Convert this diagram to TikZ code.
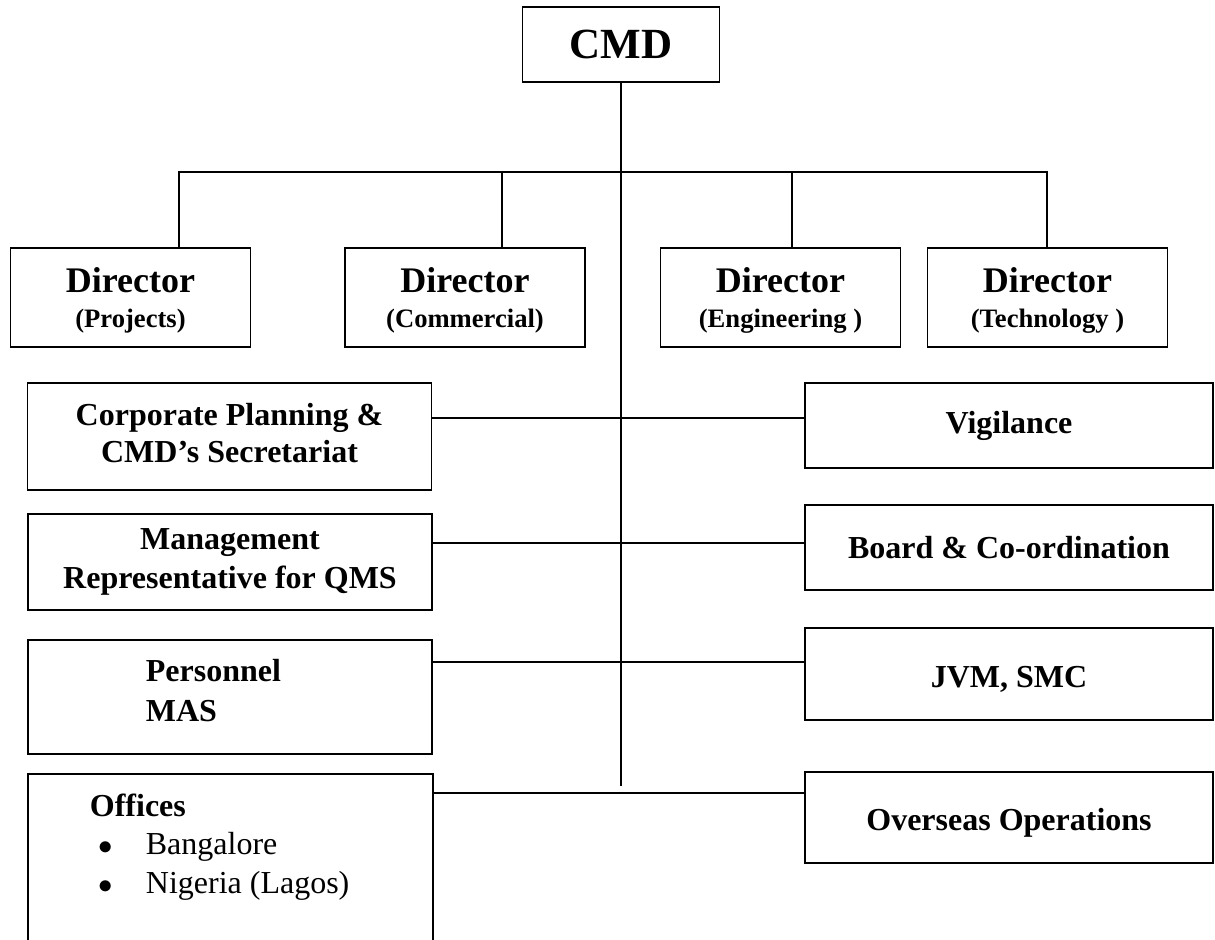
\documentclass[tikz,border=0pt]{standalone}
\usepackage{fontspec}
\setmainfont{Liberation Serif}

\begin{document}
\begin{tikzpicture}[x=0.5pt, y=-0.5pt, line width=0.9pt,
    box/.style={draw, inner sep=2pt, align=center, font=\bfseries},
    dir/.style={box, minimum width=120pt, minimum height=49.5pt, text height=32.5pt,
                font=\fontsize{13.3}{17.5}\selectfont\bfseries},
    unit/.style={box, minimum width=202pt, font=\fontsize{16}{18.5}\selectfont\bfseries},
    runit/.style={unit, minimum width=204pt},
    txt/.style={anchor=north west, align=left, inner sep=0pt}]
    \useasboundingbox (0,0) rectangle (1215,940);
    \clip (0,0) rectangle (1215,940);

    \node[box, minimum width=98.5pt, minimum height=37.5pt, font=\fontsize{21.5}{24}\selectfont\bfseries] (1) at (621,44.5) {CMD};

    \node[dir] (2) at (130.5,297.5) {{\fontsize{18}{20}\selectfont Director}\\(Projects)};
    \node[dir] (3) at (465,297.5)   {{\fontsize{18}{20}\selectfont Director}\\(Commercial)};
    \node[dir] (4) at (780.5,297.5) {{\fontsize{18}{20}\selectfont Director}\\(Engineering )};
    \node[dir] (5) at (1047.5,297.5){{\fontsize{18}{20}\selectfont Director}\\(Technology )};

    \node[unit, minimum height=53.5pt, text depth=4pt] (6) at (229.5,436.5) {Corporate Planning \&\\CMD’s Secretariat};
    \node[unit, minimum height=48pt, font=\fontsize{16}{19.5}\selectfont\bfseries] (7) at (230,562) {Management\\Representative for QMS};
    \node[unit, minimum height=57pt] (8) at (230,697) {};
    \node[txt, font=\fontsize{16}{20}\selectfont\bfseries] (t8) at (145,658) {Personnel\\MAS};
    \node[box, minimum width=202.5pt, minimum height=95pt] (9) at (230.5,869) {};
    \node[txt, font=\fontsize{16}{19.25}\selectfont] (t9) at (89,793)
        {\textbf{Offices}\\
         \hspace*{4.5pt}\makebox[23.5pt][l]{\fontsize{15}{15}\selectfont$\bullet$}Bangalore\\
         \hspace*{4.5pt}\makebox[23.5pt][l]{\fontsize{15}{15}\selectfont$\bullet$}Nigeria (Lagos)};

    \node[runit, minimum height=42.5pt] (10) at (1009,425.5) {Vigilance};
    \node[runit, minimum height=42.5pt] (11) at (1009,547.5) {Board \& Co-ordination};
    \node[runit, minimum height=46pt, text height=16pt]   (12) at (1009,674)   {JVM, SMC};
    \node[runit, minimum height=45.5pt, text height=16pt] (13) at (1009,817.5) {Overseas Operations};

    \coordinate (bL) at (179,172);
    \coordinate (b2) at (502,172);
    \coordinate (b3) at (792,172);
    \coordinate (bR) at (1047,172);
    \coordinate (e) at (621,786);
    \coordinate (r1) at (0,418);
    \coordinate (r2) at (0,543);
    \coordinate (r3) at (0,662);
    \coordinate (r4) at (0,793);

    \draw (1) -- (e);
    \draw (bL |- 2.north) -- (bL) -- (bR) -- (bR |- 5.north);
    \draw (b2) edge (b2 |- 3.north)
          (b3) edge (b3 |- 4.north)
          (6.east |- r1) edge (10.west |- r1)
          (7.east |- r2) edge (11.west |- r2)
          (8.east |- r3) edge (12.west |- r3)
          (9.east |- r4) edge (13.west |- r4)
    ;
\end{tikzpicture}
\end{document}
